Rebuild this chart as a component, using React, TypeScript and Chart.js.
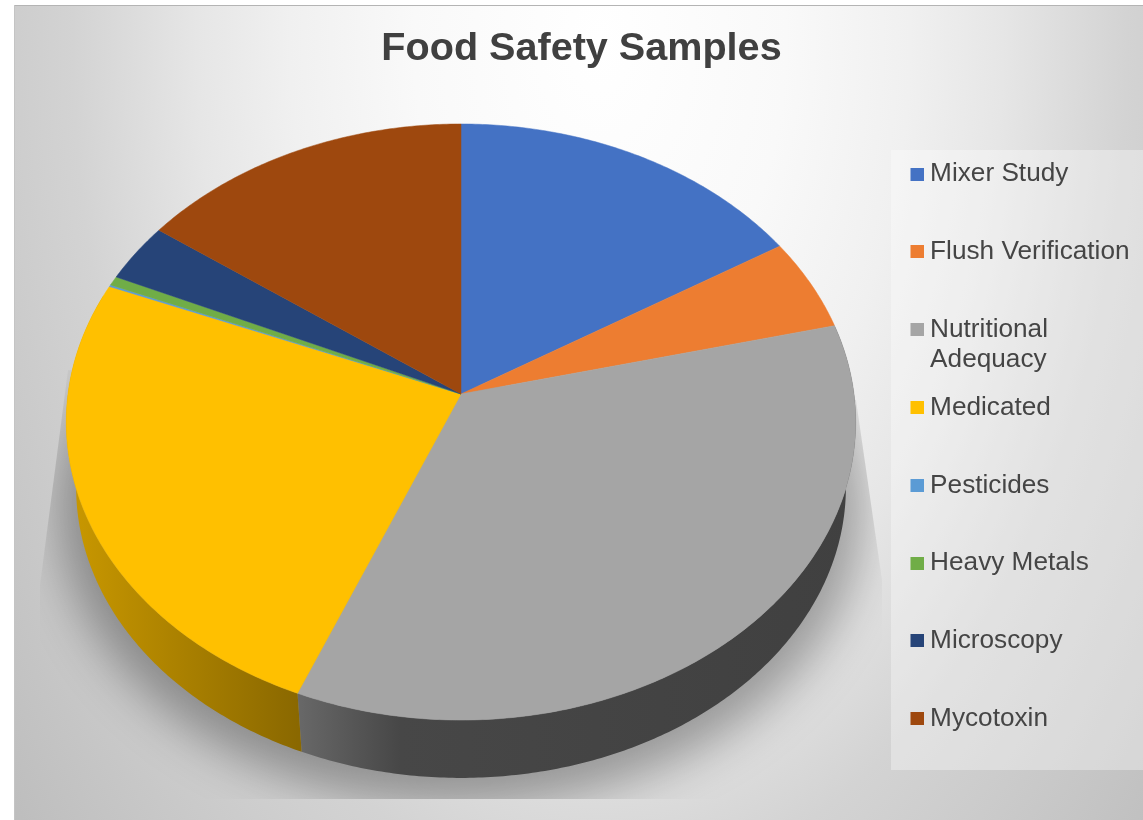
import React, { useEffect, useRef } from "react";
import { Chart, registerables, ArcElement } from "chart.js";

const TITLE = "Food Safety Samples";
const categories: (string | string[])[] = [
  "Mixer Study",
  "Flush Verification",
  ["Nutritional", "Adequacy"],
  "Medicated",
  "Pesticides",
  "Heavy Metals",
  "Microscopy",
  "Mycotoxin",
];
const sampleShares = [16.2, 5.0, 35.0, 24.95, 0.1, 0.5, 3.2, 15.05];
const sliceColors = ["#4472C4", "#ED7D31", "#A5A5A5", "#FFC000", "#5B9BD5", "#70AD47", "#264478", "#9E480E"];

// 3D projection of the pie disc
const CX = 461, CY = 394, PR = 393, PB = 295.4, PK = 0.094;
const DEPTH = 66, BASE_SCALE = 0.975;

function project(theta: number, s = 1, d = 0) {
  const y = Math.sin(theta), x = Math.cos(theta);
  const den = 1 - PK * y;
  return { x: CX + (s * PR * x) / den, y: CY + d + (s * PB * y) / den };
}

class PerspectiveArc extends ArcElement {
  static id = "perspectiveArc";
  draw(ctx: CanvasRenderingContext2D) {
    const { startAngle, endAngle } = (this as any).getProps(["startAngle", "endAngle"]);
    const color = (this as any).options.backgroundColor;
    ctx.save();
    ctx.beginPath();
    ctx.moveTo(CX, CY);
    const n = Math.max(2, Math.ceil((endAngle - startAngle) / 0.01));
    for (let i = 0; i <= n; i++) {
      const p = project(startAngle + ((endAngle - startAngle) * i) / n);
      ctx.lineTo(p.x, p.y);
    }
    ctx.closePath();
    ctx.fillStyle = color;
    ctx.fill();
    ctx.strokeStyle = color;
    ctx.lineWidth = 0.5;
    ctx.stroke();
    ctx.restore();
  }
}

const swatch = (color: string) => {
  const c = document.createElement("canvas");
  c.width = 16;
  c.height = 13;
  const g = c.getContext("2d")!;
  g.fillStyle = color;
  g.fillRect(3, 0, 13, 13);
  return c;
};

const sideStops: Record<string, [number, string][]> = {
  "#A5A5A5": [[298, "#686868"], [400, "#474747"], [856, "#404040"]],
  "#FFC000": [[70, "#C99800"], [298, "#8A6800"]],
};

const LEGEND_PAD = 51.6, FONT = 26.2, LINE = 1.15, TEXT_COLOR = "#454545";

const piePlugin = {
  id: "pie3d",
  beforeDraw(chart: any) {
    const { ctx, width, height } = chart;
    ctx.save();
    ctx.fillStyle = "#ffffff";
    ctx.fillRect(0, 0, width, height);
    // chart-area background
    ctx.save();
    ctx.beginPath();
    ctx.rect(15, 6, width - 15, height - 6);
    ctx.clip();
    ctx.translate(600, 40);
    ctx.scale(620, 1000);
    const g = ctx.createRadialGradient(0, 0, 0, 0, 0, 1.25);
    g.addColorStop(0, "#ffffff");
    g.addColorStop(0.24, "#f9f9f9");
    g.addColorStop(0.4, "#f0f0f0");
    g.addColorStop(0.52, "#e6e6e6");
    g.addColorStop(0.68, "#d3d3d3");
    g.addColorStop(1, "#bcbcbc");
    ctx.fillStyle = g;
    ctx.fillRect(-2, -2, 4, 4);
    ctx.restore();
    ctx.fillStyle = "#b4b4b4";
    ctx.fillRect(15, 5, width - 15, 1);
    ctx.fillStyle = "#c4c4c4";
    ctx.fillRect(14, 5, 1, height - 5);

    // soft shadow under the pie
    ctx.save();
    ctx.beginPath();
    ctx.moveTo(68, 370);
    ctx.lineTo(40, 585);
    ctx.lineTo(40, 799);
    ctx.lineTo(882, 799);
    ctx.lineTo(882, 580);
    ctx.lineTo(856, 400);
    ctx.closePath();
    ctx.clip();
    ctx.filter = "blur(24px)";
    ctx.fillStyle = "rgba(0,0,0,0.33)";
    ctx.beginPath();
    ctx.ellipse(461, 505, 402, 300, 0, 0, Math.PI * 2);
    ctx.fill();
    ctx.restore();

    // legend panel
    ctx.fillStyle = "rgba(255,255,255,0.33)";
    ctx.fillRect(891, 150, width - 891, 620);
    ctx.restore();

    // place title and legend
    const t = chart.titleBlock;
    t.left = 20;
    t.right = width;
    const l = chart.legend;
    l.left = 914 - LEGEND_PAD;
    l.right = width;
    l.top = 161 - LEGEND_PAD;
    l.bottom = height;
  },
  beforeDatasetsDraw(chart: any) {
    const { ctx } = chart;
    const lo = -0.35, hi = Math.PI + 0.35;
    chart.getDatasetMeta(0).data.forEach((arc: any) => {
      const { startAngle, endAngle } = arc.getProps(["startAngle", "endAngle"]);
      const a0 = Math.max(startAngle, lo), a1 = Math.min(endAngle, hi);
      if (a1 <= a0) return;
      const stops = sideStops[arc.options.backgroundColor];
      if (!stops) return;
      const grad = ctx.createLinearGradient(stops[0][0], 0, stops[stops.length - 1][0], 0);
      const span = stops[stops.length - 1][0] - stops[0][0];
      stops.forEach(([x, c]) => grad.addColorStop((x - stops[0][0]) / span, c));
      const n = Math.ceil((a1 - a0) / 0.01);
      ctx.save();
      ctx.beginPath();
      for (let i = 0; i <= n; i++) {
        const p = project(a0 + ((a1 - a0) * i) / n);
        i ? ctx.lineTo(p.x, p.y) : ctx.moveTo(p.x, p.y);
      }
      for (let i = n; i >= 0; i--) {
        const p = project(a0 + ((a1 - a0) * i) / n, BASE_SCALE, DEPTH);
        ctx.lineTo(p.x, p.y);
      }
      ctx.closePath();
      ctx.fillStyle = grad;
      ctx.fill();
      ctx.restore();
    });
  },
  afterDraw(chart: any) {
    // second line of wrapped legend labels
    const { ctx } = chart;
    const l = chart.legend;
    const lineH = FONT + LEGEND_PAD;
    ctx.save();
    ctx.font = `${FONT}px "Liberation Sans"`;
    ctx.fillStyle = TEXT_COLOR;
    ctx.textBaseline = "middle";
    ctx.textAlign = "left";
    categories.forEach((c, i) => {
      if (Array.isArray(c)) {
        c.slice(1).forEach((line, j) => {
          ctx.fillText(
            line,
            l.left + LEGEND_PAD + 3 + FONT / 2,
            l.top + LEGEND_PAD + i * lineH + FONT / 2 + (j + 1) * FONT * LINE
          );
        });
      }
    });
    ctx.restore();
  },
};

Chart.register(...registerables, PerspectiveArc);
(Chart.defaults as any).datasets.pie.dataElementType = "perspectiveArc";

export default function App() {
  const ref = useRef<HTMLCanvasElement>(null);
  useEffect(() => {
    document.body.style.margin = "0";
    const chart = new Chart(ref.current!, {
      type: "pie",
      data: {
        labels: categories as any,
        datasets: [{ data: sampleShares, backgroundColor: sliceColors, borderWidth: 0, clip: false as any }],
      },
      plugins: [piePlugin as any],
      options: {
        animation: false,
        responsive: false,
        devicePixelRatio: 1,
        plugins: {
          tooltip: { enabled: false },
          title: {
            display: true,
            text: TITLE,
            color: "#404040",
            font: { family: '"Liberation Sans"', size: 39.6, weight: "bold" },
            padding: { top: 25, bottom: 10 },
          },
          legend: {
            display: true,
            position: "right",
            align: "start",
            labels: {
              color: TEXT_COLOR,
              font: { family: '"Liberation Sans"', size: FONT, lineHeight: LINE },
              padding: LEGEND_PAD,
              boxWidth: 3,
              boxHeight: 13,
              usePointStyle: true,
              generateLabels: (c: any) =>
                c.data.labels.map((label: any, i: number) => ({
                  text: Array.isArray(label) ? label[0] : label,
                  fillStyle: sliceColors[i],
                  strokeStyle: sliceColors[i],
                  fontColor: TEXT_COLOR,
                  lineWidth: 0,
                  pointStyle: swatch(sliceColors[i]),
                  hidden: false,
                  index: i,
                })),
            },
          },
        },
      },
    } as any);
    return () => chart.destroy();
  }, []);
  return <canvas ref={ref} width={1143} height={820} style={{ display: "block" }} />;
}
